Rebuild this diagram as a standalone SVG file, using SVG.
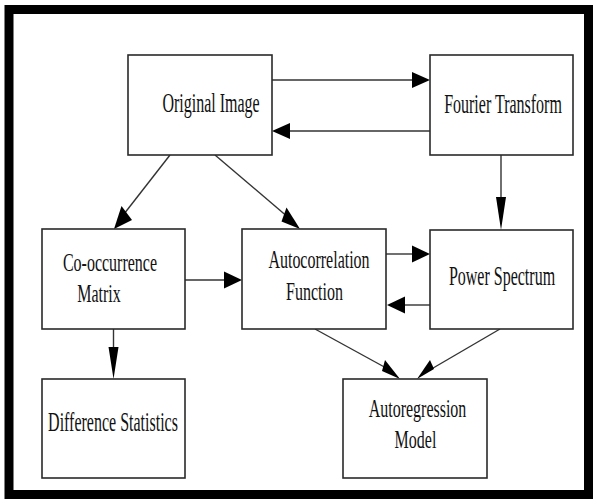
<svg xmlns="http://www.w3.org/2000/svg" width="595" height="499" viewBox="0 0 595 499">
<style>
.box{fill:#fff;stroke:#2a2a2a;stroke-width:1.6}
.ln{fill:none;stroke:#333;stroke-width:1.4}
.ah{fill:#000;stroke:none}
text{font-family:"Liberation Serif","Times New Roman",serif;font-size:16px;fill:#111;text-anchor:middle}
</style>
<rect x="0" y="0" width="595" height="499" fill="#fff"/>
<rect x="9" y="9.5" width="579.5" height="485" fill="#fff" stroke="#000" stroke-width="9"/>
<g id="connectors">
<line class="ln" x1="272" y1="80" x2="413" y2="80"/>
<polygon class="ah" points="430,80 412,72 412,88"/>
<line class="ln" x1="430" y1="131" x2="289" y2="131"/>
<polygon class="ah" points="272,131 290,123 290,139"/>
<line class="ln" x1="170" y1="155" x2="124" y2="214"/>
<polygon class="ah" points="114,229 121.5,206 132,220"/>
<line class="ln" x1="215" y1="155" x2="289" y2="218"/>
<polygon class="ah" points="300,229 286.5,207.5 281.5,221.5"/>
<line class="ln" x1="501" y1="155" x2="501" y2="198"/>
<polygon class="ah" points="501,230 496,197 506,197"/>
<line class="ln" x1="185" y1="280" x2="225" y2="280"/>
<polygon class="ah" points="242,280 224,271.5 224,288.5"/>
<line class="ln" x1="386" y1="254" x2="413" y2="254"/>
<polygon class="ah" points="430,254 412,245.5 412,262.5"/>
<line class="ln" x1="430" y1="305" x2="404" y2="305"/>
<polygon class="ah" points="387,305 405,296.5 405,313.5"/>
<line class="ln" x1="113.5" y1="329" x2="113.5" y2="348"/>
<polygon class="ah" points="113.5,379 108.5,347 118.5,347"/>
<line class="ln" x1="315" y1="329" x2="388" y2="369"/>
<polygon class="ah" points="400,379 385,360 382,371"/>
<line class="ln" x1="500" y1="329" x2="428" y2="371"/>
<polygon class="ah" points="417,379 430,360 434,369"/>
</g>
<g id="original-image">
<rect class="box" x="128" y="55" width="144" height="100"/>
<text transform="translate(211,112) scale(1,1.68)">Original Image</text>
</g>
<g id="fourier-transform">
<rect class="box" x="430" y="55" width="143" height="100"/>
<text transform="translate(503,112.5) scale(1,1.68)">Fourier Transform</text>
</g>
<g id="co-occurrence-matrix">
<rect class="box" x="42" y="229" width="143" height="100"/>
<text transform="translate(110,271) scale(1,1.6)">Co-occurrence</text>
<text transform="translate(99,302) scale(1,1.6)">Matrix</text>
</g>
<g id="autocorrelation-function">
<rect class="box" x="242" y="229" width="144" height="100"/>
<text transform="translate(319,268) scale(1,1.62)">Autocorrelation</text>
<text transform="translate(314.5,300) scale(1,1.62)">Function</text>
</g>
<g id="power-spectrum">
<rect class="box" x="430" y="230" width="143" height="99"/>
<text transform="translate(502,285) scale(1,1.68)">Power Spectrum</text>
</g>
<g id="difference-statistics">
<rect class="box" x="42" y="379" width="143" height="99"/>
<text transform="translate(113,431) scale(1,1.68)">Difference Statistics</text>
</g>
<g id="autoregression-model">
<rect class="box" x="343" y="379" width="144" height="99"/>
<text transform="translate(417.5,417) scale(1,1.55)">Autoregression</text>
<text transform="translate(415.5,448) scale(1,1.55)">Model</text>
</g>
</svg>
